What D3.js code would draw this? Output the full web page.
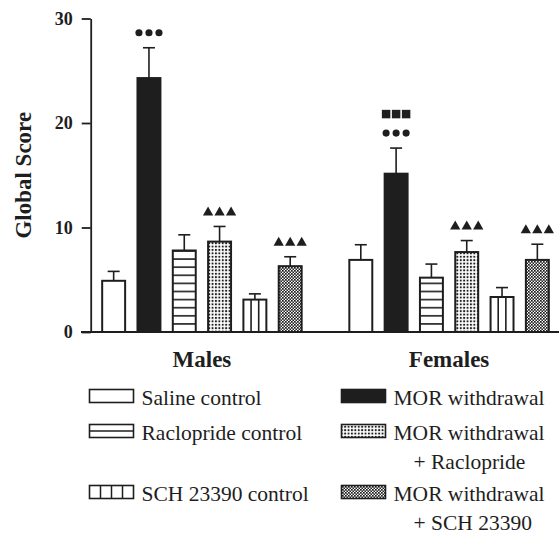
<!DOCTYPE html>
<html><head><meta charset="utf-8">
<script src="https://cdn.jsdelivr.net/npm/d3@7"></script>
<style>
body{margin:0;background:#fff;}
svg{display:block;font-family:"Liberation Serif","Times New Roman",serif;}
</style></head>
<body><svg id="c" width="559" height="534"></svg>
<script>
const groups = ["Males", "Females"];
const series = ["Saline control", "MOR withdrawal", "Raclopride control",
  "MOR withdrawal + Raclopride", "SCH 23390 control", "MOR withdrawal + SCH 23390"];
const malesMean = [4.9, 24.3, 7.8, 8.65, 3.1, 6.3];
const malesSE   = [0.9, 2.9, 1.5, 1.45, 0.55, 0.9];
const femalesMean = [6.9, 15.15, 5.2, 7.65, 3.35, 6.9];
const femalesSE   = [1.45, 2.45, 1.3, 1.1, 0.9, 1.5];
const yTicks = [0, 10, 20, 30];
const fills = ["white", "black", "hlines", "dots", "vlines", "checker"];
// significance marks: [group, series index, symbol rows from bottom]
const marks = [
  ["Males", 1, ["circle"]],
  ["Males", 3, ["triangle"]],
  ["Males", 5, ["triangle"]],
  ["Females", 1, ["circle", "square"]],
  ["Females", 3, ["triangle"]],
  ["Females", 5, ["triangle"]]
];
const legendItems = [
  {s: 0, col: 0, row: 0, lines: ["Saline control"]},
  {s: 1, col: 1, row: 0, lines: ["MOR withdrawal"]},
  {s: 2, col: 0, row: 1, lines: ["Raclopride control"]},
  {s: 3, col: 1, row: 1, lines: ["MOR withdrawal", "+ Raclopride"]},
  {s: 4, col: 0, row: 2, lines: ["SCH 23390 control"]},
  {s: 5, col: 1, row: 2, lines: ["MOR withdrawal", "+ SCH 23390"]}
];

const data = [];
groups.forEach((g, gi) => {
  const m = gi === 0 ? malesMean : femalesMean;
  const e = gi === 0 ? malesSE : femalesSE;
  series.forEach((s, si) => data.push({g, s, si, v: m[si], se: e[si]}));
});

const INK = "#1e1e1e";
const svg = d3.select("#c");
const defs = svg.append("defs");
const y = d3.scaleLinear().domain([0, 30]).range([332, 18.5]);
const x0 = d3.scaleBand().domain(groups).range([96, 555]).paddingInner(1/7).paddingOuter(0);
const x1 = d3.scaleBand().domain(series).range([0, x0.bandwidth()]).paddingInner(0.35).paddingOuter(0.175);

// patterns
const ph = defs.append("pattern").attr("id", "hlines").attr("patternUnits", "userSpaceOnUse")
  .attr("x", 0).attr("y", y(0)).attr("width", 10).attr("height", 8.1);
ph.append("rect").attr("width", 10).attr("height", 8.1).attr("fill", "white");
ph.append("rect").attr("y", -0.8).attr("width", 10).attr("height", 1.6).attr("fill", INK);
ph.append("rect").attr("y", 7.3).attr("width", 10).attr("height", 1.6).attr("fill", INK);

const pd = defs.append("pattern").attr("id", "dots").attr("patternUnits", "userSpaceOnUse")
  .attr("width", 3.4).attr("height", 3.4);
pd.append("rect").attr("width", 3.4).attr("height", 3.4).attr("fill", "white");
pd.append("rect").attr("x", 0.8).attr("y", 0.8).attr("width", 1.9).attr("height", 1.9).attr("fill", INK);

const pc = defs.append("pattern").attr("id", "checker").attr("patternUnits", "userSpaceOnUse")
  .attr("width", 3).attr("height", 3);
pc.append("rect").attr("width", 3).attr("height", 3).attr("fill", "white");
pc.append("rect").attr("width", 1.7).attr("height", 1.7).attr("fill", INK);
pc.append("rect").attr("x", 1.5).attr("y", 1.5).attr("width", 1.7).attr("height", 1.7).attr("fill", INK);

function fillOf(k) {
  if (k === "white" || k === "vlines") return "white";
  if (k === "black") return INK;
  return "url(#" + k + ")";
}

// baseline
svg.append("line").attr("x1", 81).attr("x2", 559).attr("y1", y(0)).attr("y2", y(0))
  .attr("stroke", INK).attr("stroke-width", 1.8);

// y axis
const yAxis = svg.append("g").attr("transform", "translate(90.7,0)")
  .call(d3.axisLeft(y).tickValues(yTicks).tickSize(9).tickSizeOuter(0).tickPadding(9).tickFormat(d3.format("d")));
yAxis.select(".domain").attr("stroke", INK).attr("stroke-width", 1.8);
yAxis.selectAll(".tick line").attr("stroke", INK).attr("stroke-width", 1.8);
yAxis.selectAll(".tick text").attr("fill", INK).attr("font-size", 18).attr("font-weight", "bold")
  .attr("font-family", "Liberation Serif, Times New Roman, serif");

// error bars
const bx = d => x0(d.g) + x1(d.s);
const bw = x1.bandwidth();
const eb = svg.append("g").attr("stroke", INK).attr("stroke-width", 1.6);
data.forEach(d => {
  const cx = bx(d) + bw / 2;
  eb.append("line").attr("x1", cx).attr("x2", cx).attr("y1", y(d.v)).attr("y2", y(d.v + d.se));
  eb.append("line").attr("x1", cx - 6).attr("x2", cx + 6).attr("y1", y(d.v + d.se)).attr("y2", y(d.v + d.se));
});

// bars
const bars = svg.append("g");
data.forEach(d => {
  const k = fills[d.si];
  bars.append("rect").attr("x", bx(d)).attr("y", y(d.v)).attr("width", bw).attr("height", y(0) - y(d.v))
    .attr("fill", fillOf(k)).attr("stroke", INK).attr("stroke-width", 2);
  if (k === "vlines") {
    for (let i = 1; i < 3; i++) {
      const lx = bx(d) + bw * i / 3;
      bars.append("line").attr("x1", lx).attr("x2", lx).attr("y1", y(d.v)).attr("y2", y(0))
        .attr("stroke", INK).attr("stroke-width", 1.6);
    }
  }
});

// significance marks
const symTypes = {circle: [d3.symbolCircle, 40], triangle: [d3.symbolTriangle, 46], square: [d3.symbolSquare, 72]};
marks.forEach(([g, si, rows]) => {
  const d = data.find(e => e.g === g && e.si === si);
  const cx = bx(d) + bw / 2;
  rows.forEach((t, ri) => {
    const cy = y(d.v + d.se) - 15 - ri * 19;
    const spacing = t === "triangle" ? 11.5 : 10;
    [-1, 0, 1].forEach(k => {
      svg.append("path").attr("d", d3.symbol().type(symTypes[t][0]).size(symTypes[t][1]))
        .attr("transform", `translate(${cx + k * spacing},${cy + (t === "triangle" ? 1 : 0)})`)
        .attr("fill", INK);
    });
  });
});

// group labels
groups.forEach(g => {
  svg.append("text").attr("x", x0(g) + x0.bandwidth() / 2).attr("y", 367)
    .attr("text-anchor", "middle").attr("font-size", 23).attr("font-weight", "bold").attr("fill", INK).text(g);
});

// y title
svg.append("text").attr("transform", `translate(31,${(y(0) + y(30)) / 2}) rotate(-90)`)
  .attr("text-anchor", "middle").attr("font-size", 23).attr("font-weight", "bold").attr("fill", INK)
  .text("Global Score");

// legend
const colX = [89.5, 341.5];
const rowY = [405, 440, 501];
const lg = svg.append("g");
legendItems.forEach(it => {
  const sx = colX[it.col], base = rowY[it.row];
  const k = fills[it.s];
  const sw = 44, sh = 13, sy = base - 15.5;
  lg.append("rect").attr("x", sx).attr("y", sy).attr("width", sw).attr("height", sh)
    .attr("fill", fillOf(k === "hlines" ? "white" : k)).attr("stroke", INK).attr("stroke-width", 1.6);
  if (k === "hlines") {
    lg.append("line").attr("x1", sx).attr("x2", sx + sw).attr("y1", sy + sh / 2).attr("y2", sy + sh / 2)
      .attr("stroke", INK).attr("stroke-width", 1.5);
  }
  if (k === "vlines") {
    for (let i = 1; i < 4; i++) {
      lg.append("line").attr("x1", sx + sw * i / 4).attr("x2", sx + sw * i / 4).attr("y1", sy).attr("y2", sy + sh)
        .attr("stroke", INK).attr("stroke-width", 1.5);
    }
  }
  it.lines.forEach((ln, li) => {
    lg.append("text").attr("x", sx + 52 + (li > 0 ? 20 : 0)).attr("y", base + li * 28.5)
      .attr("font-size", 21.5).attr("fill", INK).text(ln);
  });
});
</script></body></html>
